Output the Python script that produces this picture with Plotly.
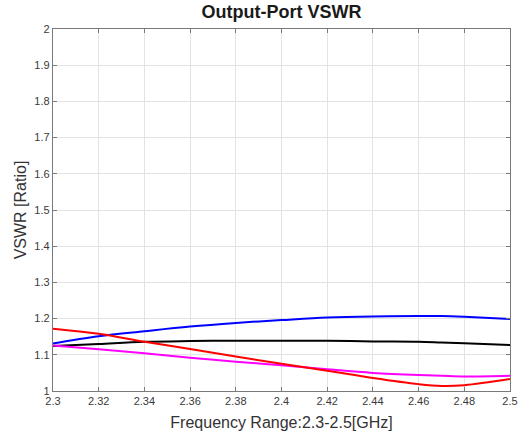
import plotly.graph_objects as go

freq = [2.30, 2.32, 2.34, 2.36, 2.38, 2.40, 2.42, 2.44, 2.46, 2.47, 2.48, 2.50]
vswr_blue = [1.131, 1.151, 1.165, 1.178, 1.188, 1.196, 1.203, 1.206, 1.207, 1.207, 1.205, 1.199]
vswr_black = [1.124, 1.130, 1.136, 1.138, 1.139, 1.139, 1.139, 1.137, 1.136, 1.134, 1.132, 1.127]
vswr_red = [1.172, 1.158, 1.136, 1.116, 1.095, 1.075, 1.056, 1.036, 1.019, 1.014, 1.016, 1.033]
vswr_magenta = [1.126, 1.115, 1.104, 1.092, 1.081, 1.071, 1.060, 1.050, 1.044, 1.042, 1.040, 1.042]

x_ticks = [2.30, 2.32, 2.34, 2.36, 2.38, 2.40, 2.42, 2.44, 2.46, 2.48, 2.50]
x_tick_text = ["2.3", "2.32", "2.34", "2.36", "2.38", "2.4", "2.42", "2.44", "2.46", "2.48", "2.5"]
y_ticks = [1.0, 1.1, 1.2, 1.3, 1.4, 1.5, 1.6, 1.7, 1.8, 1.9, 2.0]
y_tick_text = ["1", "1.1", "1.2", "1.3", "1.4", "1.5", "1.6", "1.7", "1.8", "1.9", "2"]

fig = go.Figure()
for ys, col in [(vswr_blue, "#0000ff"), (vswr_black, "#000000"),
                (vswr_magenta, "#ff00ff"), (vswr_red, "#ff0000")]:
    fig.add_trace(go.Scatter(x=freq, y=ys, mode="lines",
                             line=dict(color=col, width=2, shape="spline"),
                             showlegend=False))

axis_common = dict(
    showline=True, linecolor="#7a7a7a", linewidth=1.3, mirror="ticks",
    ticks="inside", ticklen=4, tickcolor="#7a7a7a", tickwidth=1,
    showgrid=True, gridcolor="#e3e3e3", gridwidth=1, zeroline=False,
    automargin=False,
    tickfont=dict(family="Liberation Sans, Arial", size=11, color="#3a3a3a"),
)

fig.update_layout(
    width=524, height=437,
    margin=dict(l=53, r=14, t=29, b=46),
    paper_bgcolor="white", plot_bgcolor="white",
    title=dict(text="<b>Output-Port VSWR</b>", x=0.5, xanchor="center",
               xref="paper", y=1, yref="container", yanchor="top", pad=dict(t=5),
               font=dict(family="Liberation Sans, Arial", size=18, color="#1a1a1a")),
    xaxis=dict(range=[2.3, 2.5], tickvals=x_ticks, ticktext=x_tick_text,
               title=dict(text="Frequency Range:2.3-2.5[GHz]", standoff=10,
                          font=dict(family="Liberation Sans, Arial", size=16, color="#333333")),
               **axis_common),
    yaxis=dict(range=[1.0, 2.0], tickvals=y_ticks, ticktext=y_tick_text,
               title=dict(text="VSWR [Ratio]", standoff=3,
                          font=dict(family="Liberation Sans, Arial", size=16, color="#333333")),
               **axis_common),
)

fig.write_html("out.html", config={"displayModeBar": False},
               post_script="document.body.style.margin='0';document.body.style.padding='0';")
